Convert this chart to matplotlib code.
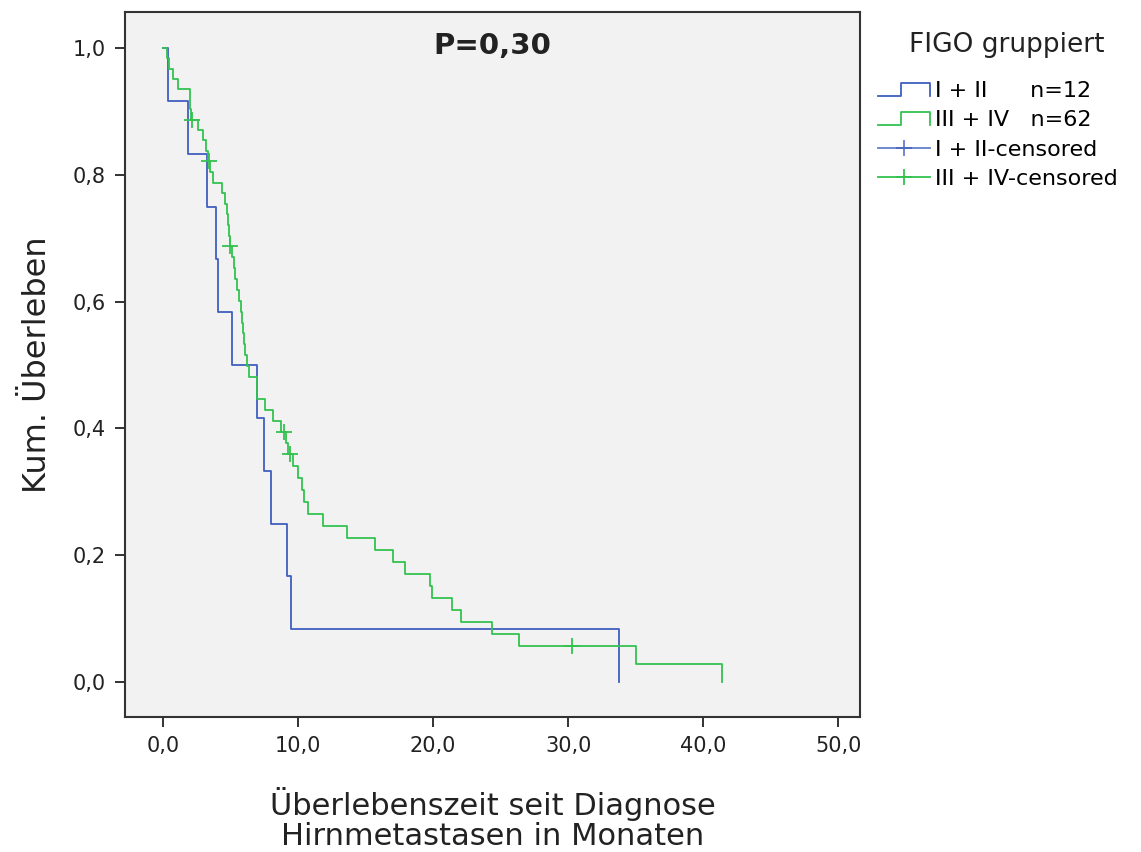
"""Kaplan-Meier survival after brain metastases, grouped by FIGO stage."""
import matplotlib
matplotlib.use('Agg')
import matplotlib.pyplot as plt
from matplotlib.lines import Line2D
from matplotlib.legend_handler import HandlerBase
from matplotlib.ticker import FuncFormatter

# Data (months)
# FIGO I + II, n=12: all events
blue_events = [0.4, 1.85, 3.3, 3.9, 4.1, 5.1, 7.0, 7.5, 8.0, 9.2, 9.5, 33.8]
blue_censored = []

# FIGO III + IV, n=62: 56 events, 6 censored
green_events = [0.3, 0.45, 0.75, 1.1, 2.0, 2.0, 2.1,
                2.6, 3.0, 3.2, 3.35,
                3.5, 3.7, 4.4, 4.6, 4.75, 4.8, 4.9, 4.95,
                5.1, 5.3, 5.35, 5.5, 5.6, 5.8, 5.85, 5.95, 6.0, 6.1, 6.2, 6.35,
                7.0, 7.0, 7.55, 8.15, 8.75,
                9.15, 9.3,
                9.6, 10.0, 10.3, 10.45, 10.75,
                11.85, 13.6, 15.7, 17.0, 17.9, 19.8, 19.9,
                21.4, 22.1, 24.4, 26.4, 35.0, 41.4]
green_censored = [2.15, 3.4, 5.0, 9.0, 9.4, 30.3]

p_text = 'P=0,30'
legend_title = 'FIGO gruppiert'
labels = ['I + II      n=12', 'III + IV   n=62', 'I + II-censored', 'III + IV-censored']
blue = '#3f5fbf'
green = '#33c24f'


def kaplan_meier(events, censored):
    """Return step coordinates and censor mark positions."""
    times = sorted(set(events) | set(censored))
    at_risk = len(events) + len(censored)
    s = 1.0
    xs, ys = [0.0], [1.0]
    cx, cy = [], []
    for t in times:
        d = events.count(t)
        c = censored.count(t)
        if d:
            s = s * (at_risk - d) / at_risk
            xs.append(t)
            ys.append(s)
        if c:
            cx.append(t)
            cy.append(s)
        at_risk -= d + c
    return xs, ys, cx, cy


class StepHandler(HandlerBase):
    def create_artists(self, legend, orig_handle, xdescent, ydescent,
                       width, height, fontsize, trans):
        x0, y0 = -xdescent, -ydescent
        xm = x0 + 0.45 * width
        xs = [x0, xm, xm, x0 + width, x0 + width]
        ys = [y0 + 0.1 * height, y0 + 0.1 * height, y0 + 0.9 * height,
              y0 + 0.9 * height, y0 + 0.1 * height]
        line = Line2D(xs, ys, color=orig_handle.get_color(),
                      linewidth=orig_handle.get_linewidth(), transform=trans)
        return [line]


fig = plt.figure(figsize=(11.41, 8.52), dpi=100)
ax = fig.add_axes([0.1096, 0.1585, 0.644, 0.8275])
ax.set_facecolor('#f2f2f2')

for events, censored, color in [(blue_events, blue_censored, blue),
                                (green_events, green_censored, green)]:
    xs, ys, cx, cy = kaplan_meier(events, censored)
    ax.step(xs, ys, where='post', color=color, linewidth=1.3, zorder=3)
    ax.plot(cx, cy, linestyle='none', marker='+', markersize=11,
            markeredgewidth=1.3, color=color, zorder=4)

ax.set_xlim(-2.8, 51.6)
ax.set_ylim(-0.055, 1.057)
ax.set_xticks([0, 10, 20, 30, 40, 50])
ax.set_yticks([0, 0.2, 0.4, 0.6, 0.8, 1.0])
comma = FuncFormatter(lambda v, pos: '{:.1f}'.format(v).replace('.', ','))
ax.xaxis.set_major_formatter(comma)
ax.yaxis.set_major_formatter(comma)
ax.tick_params(direction='out', length=7, width=1.3, labelsize=15,
               colors='#222222', pad=7)
for side in ['left', 'bottom', 'right', 'top']:
    ax.spines[side].set_linewidth(1.5)
    ax.spines[side].set_color('#333333')

ax.set_xlabel('Überlebenszeit seit Diagnose\nHirnmetastasen in Monaten',
              fontsize=22, color='#222222', labelpad=22, linespacing=1.05)
ax.set_ylabel('Kum. Überleben', fontsize=23, color='#222222', labelpad=14)
ax.text(0.5, 0.971, p_text, transform=ax.transAxes, ha='center', va='top',
        fontsize=21, fontweight='bold', color='#222222')

# Legend (title placed separately to match the spacing)
fig.text(0.882, 0.947, legend_title, ha='center', va='center',
         fontsize=19, color='#222222')
handles = [Line2D([], [], color=blue, linewidth=1.3),
           Line2D([], [], color=green, linewidth=1.3),
           Line2D([], [], color=blue, linewidth=1.3, marker='+',
                  markersize=11, markeredgewidth=1.3, alpha=0.8),
           Line2D([], [], color=green, linewidth=1.3, marker='+',
                  markersize=11, markeredgewidth=1.3)]
leg = fig.legend(handles, labels, loc='upper left',
                 bbox_to_anchor=(0.766, 0.910), frameon=False,
                 fontsize=16, handlelength=2.3, handletextpad=0.25,
                 labelspacing=0.42, borderaxespad=0.0, borderpad=0.2,
                 handler_map={handles[0]: StepHandler(),
                              handles[1]: StepHandler()})

fig.savefig('out.png', dpi=100)
